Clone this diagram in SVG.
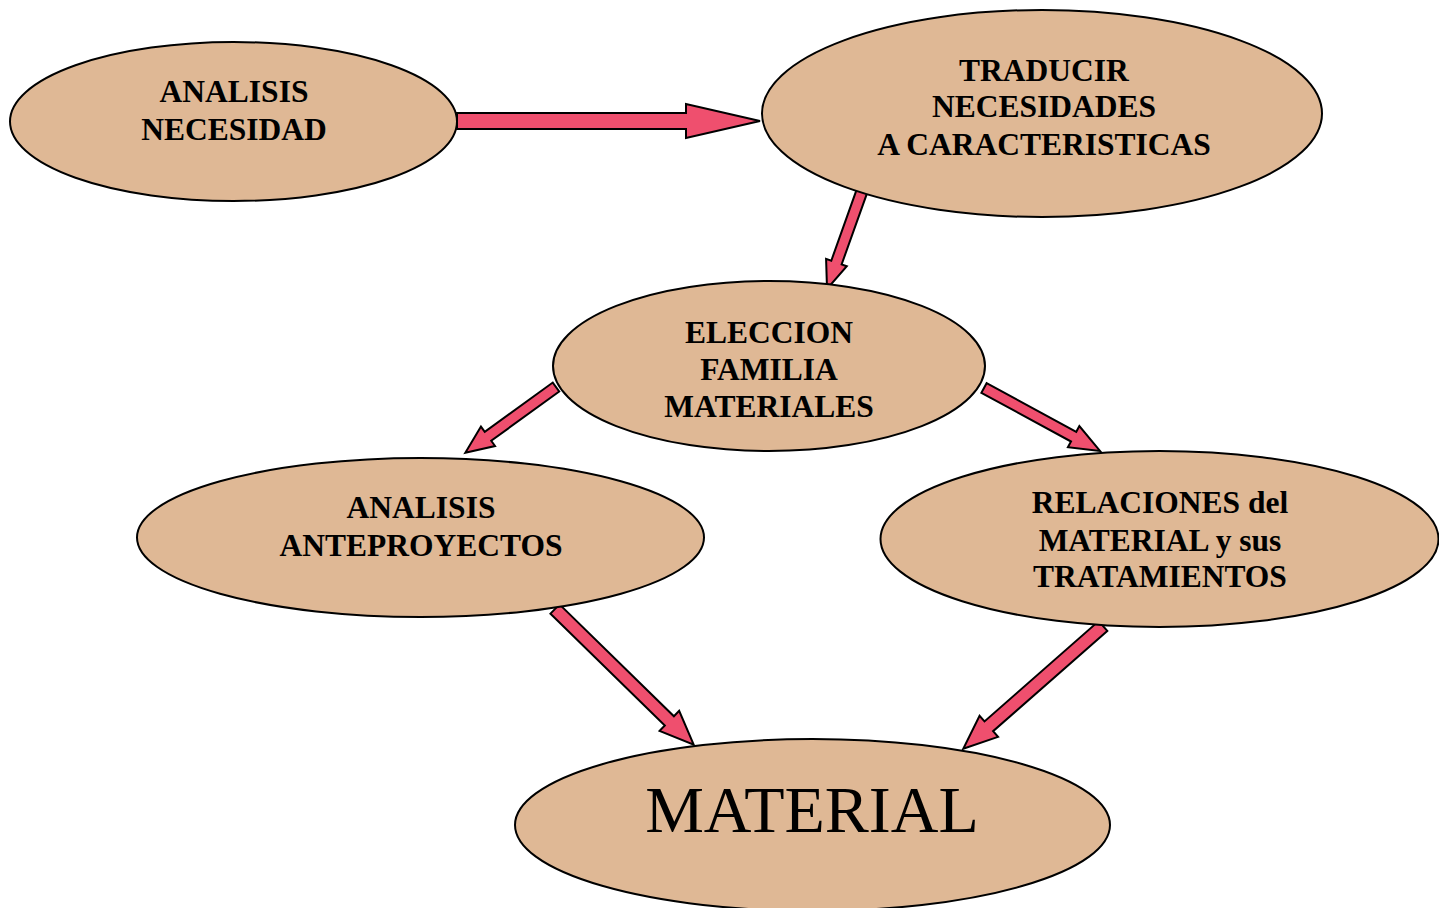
<svg xmlns="http://www.w3.org/2000/svg" width="1439" height="908" viewBox="0 0 1439 908">
  <style>
    .node { fill: #DFB895; stroke: #000; stroke-width: 2; }
    .lbl { font-family: "Liberation Serif", "Times New Roman", serif; font-weight: bold; font-size: 31.5px; fill: #000; text-anchor: middle; }
    .big { font-family: "Liberation Serif", "Times New Roman", serif; font-size: 66px; fill: #000; text-anchor: middle; }
    .arrow { fill: #EF4F6E; stroke: #000; stroke-width: 2; stroke-linejoin: miter; }
  </style>
  <rect width="1439" height="908" fill="#fff"/>

  <!-- block arrows: drawn along +x from the origin, then placed with translate/rotate -->
  <g id="connectors">
    <polygon class="arrow" points="0,-8 229,-8 229,-17 303,0 229,17 229,8 0,8" transform="translate(457,121)"/>
    <polygon class="arrow" points="0,-5.5 76,-5.5 76,-11 104,0 76,11 76,5.5 0,5.5" transform="translate(862,191) rotate(109.65)"/>
    <polygon class="arrow" points="0,-5.5 84,-5.5 84,-12 112,0 84,12 84,5.5 0,5.5" transform="translate(556,387) rotate(144.05)"/>
    <polygon class="arrow" points="0,-5.5 102,-5.5 102,-12 132,0 102,12 102,5.5 0,5.5" transform="translate(984,388) rotate(28.5)"/>
    <polygon class="arrow" points="0,-6.5 160,-6.5 160,-14 194,0 160,14 160,6.5 0,6.5" transform="translate(555,609) rotate(44.37)"/>
    <polygon class="arrow" points="0,-6.5 152,-6.5 152,-14 186,0 152,14 152,6.5 0,6.5" transform="translate(1103,626) rotate(138.7)"/>
  </g>

  <g id="analisis-necesidad">
    <ellipse class="node" cx="233.5" cy="121.5" rx="223.5" ry="79.5"/>
    <text class="lbl" x="234" y="102">ANALISIS</text>
    <text class="lbl" x="234" y="140">NECESIDAD</text>
  </g>

  <g id="traducir">
    <ellipse class="node" cx="1042" cy="113.5" rx="280" ry="103.5"/>
    <text class="lbl" x="1044" y="81">TRADUCIR</text>
    <text class="lbl" x="1044" y="117">NECESIDADES</text>
    <text class="lbl" x="1044" y="155">A CARACTERISTICAS</text>
  </g>

  <g id="eleccion">
    <ellipse class="node" cx="769" cy="366" rx="216" ry="85"/>
    <text class="lbl" x="769" y="343">ELECCION</text>
    <text class="lbl" x="769" y="380">FAMILIA</text>
    <text class="lbl" x="769" y="417">MATERIALES</text>
  </g>

  <g id="analisis-anteproyectos">
    <ellipse class="node" cx="420.5" cy="537.5" rx="283.5" ry="79.5"/>
    <text class="lbl" x="421" y="518">ANALISIS</text>
    <text class="lbl" x="421" y="556">ANTEPROYECTOS</text>
  </g>

  <g id="relaciones">
    <ellipse class="node" cx="1159.5" cy="539" rx="279" ry="88"/>
    <text class="lbl" x="1160" y="513">RELACIONES del</text>
    <text class="lbl" x="1160" y="551">MATERIAL y sus</text>
    <text class="lbl" x="1160" y="587">TRATAMIENTOS</text>
  </g>

  <g id="material">
    <ellipse class="node" cx="812.5" cy="825" rx="297.5" ry="86"/>
    <text class="big" x="812" y="832">MATERIAL</text>
  </g>
</svg>
